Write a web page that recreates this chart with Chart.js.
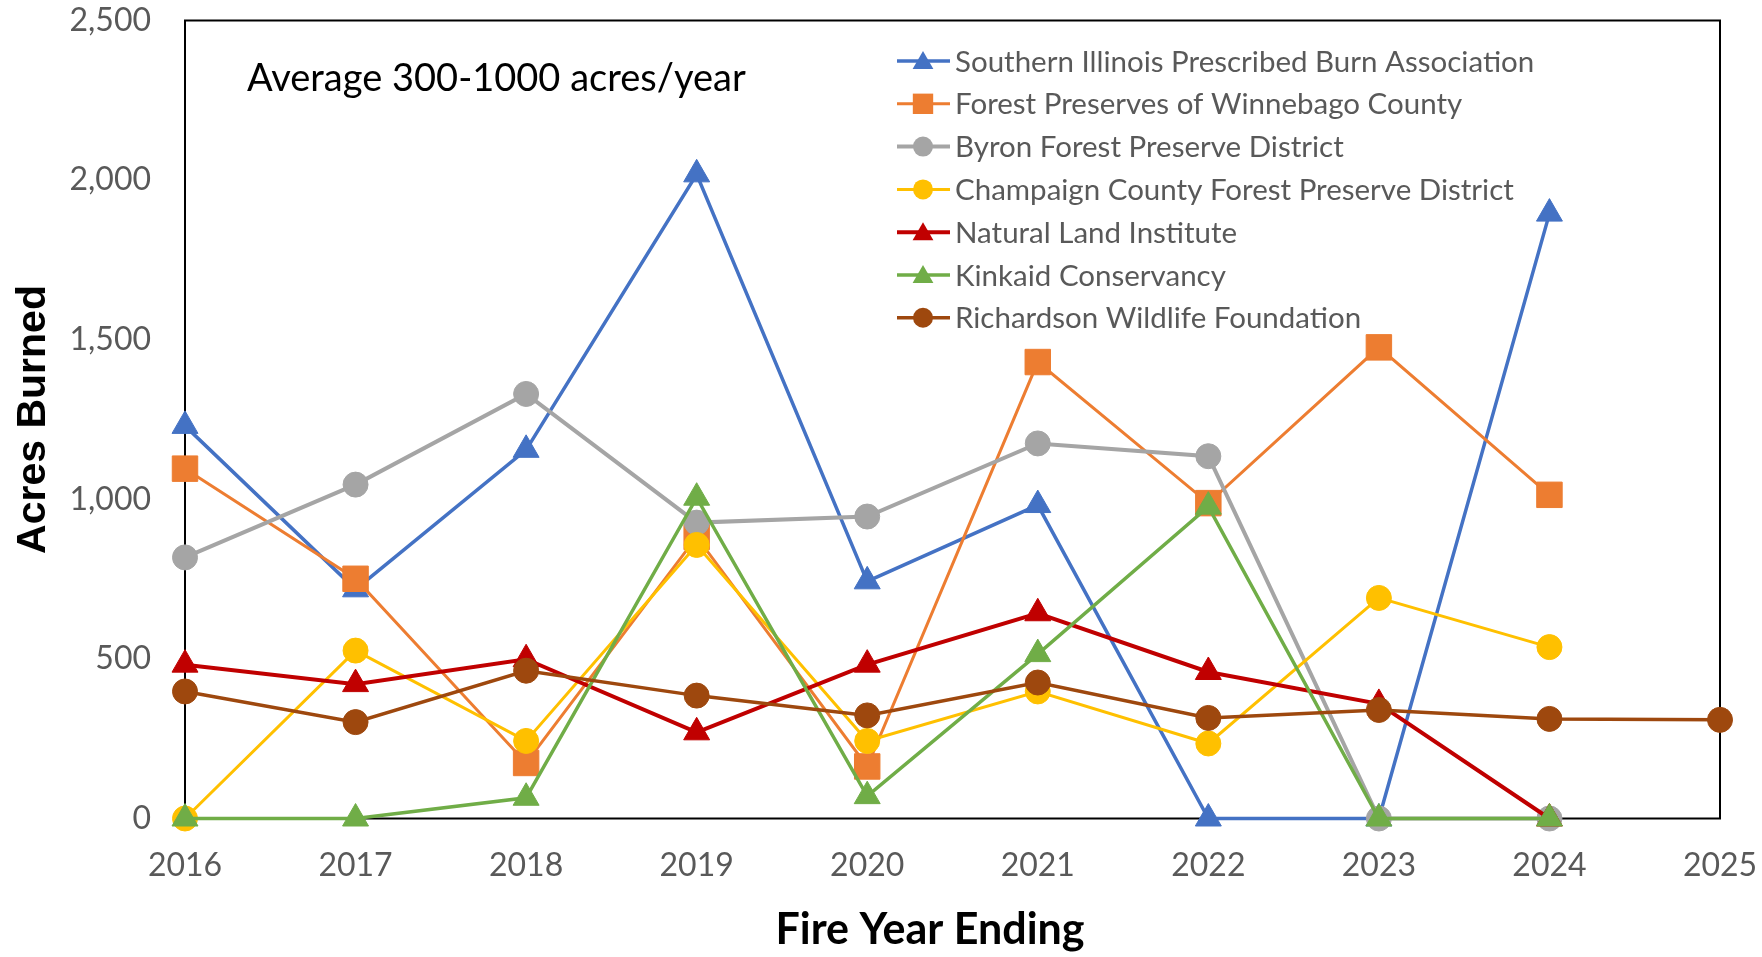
<!DOCTYPE html>
<html lang="en">
<head>
  <meta charset="UTF-8">
  <title>Acres Burned by Fire Year</title>
  <script src="https://cdn.jsdelivr.net/npm/chart.js"></script>
  <style>
    html, body {
      margin: 0;
      padding: 0;
      background: #fff;
    }
    canvas {
      display: block;
    }
  </style>
</head>
<body>

  <canvas id="burnChart" width="1762" height="957"></canvas>

  <script>
    // fire years (x axis)
    const years = ['2016', '2017', '2018', '2019', '2020', '2021', '2022', '2023', '2024', '2025'];

    // acres burned per organisation
    const southernIllinois = [1230, 718, 1155, 2018, 743, 982, 0, 0, 1895, null];
    const winnebago        = [1096, 751, 174, 882, 163, 1430, 988, 1476, 1014, null];
    const byron            = [818, 1046, 1330, 927, 946, 1175, 1135, 0, 0, null];
    const champaign        = [0, 526, 243, 857, 243, 398, 235, 691, 537, null];
    const naturalLand      = [482, 421, 499, 270, 482, 643, 459, 359, 0, null];
    const kinkaid          = [0, 0, 65, 1005, 70, 515, 977, 0, 0, null];
    const richardson       = [398, 302, 463, 385, 323, 426, 315, 340, 312, 309];

    const seriesNames = [
      'Southern Illinois Prescribed Burn Association',
      'Forest Preserves of Winnebago County',
      'Byron Forest Preserve District',
      'Champaign County Forest Preserve District',
      'Natural Land Institute',
      'Kinkaid Conservancy',
      'Richardson Wildlife Foundation'
    ];

    const yTicks = [0, 500, 1000, 1500, 2000, 2500];
    const note = 'Average 300-1000 acres/year';

    const tickGray = '#595959';

    function makeSet(i, data, color, style, radius, width) {
      return {
        label: seriesNames[i],
        data: data,
        borderColor: color,
        backgroundColor: color,
        pointStyle: style,
        pointRadius: radius,
        pointHoverRadius: radius,
        pointBorderWidth: 1,
        borderWidth: width,
        tension: 0,
        clip: false,
        order: 10 - i   // later series sit on top, like the original
      };
    }

    const datasets = [
      makeSet(0, southernIllinois, '#4472C4', 'triangle', 15, 3.5),
      makeSet(1, winnebago,        '#ED7D31', 'rect',     18, 3),
      makeSet(2, byron,            '#A5A5A5', 'circle',   12.5, 4),
      makeSet(3, champaign,        '#FFC000', 'circle',   12.5, 3),
      makeSet(4, naturalLand,      '#C00000', 'triangle', 15, 4),
      makeSet(5, kinkaid,          '#70AD47', 'triangle', 15, 3.5),
      makeSet(6, richardson,       '#9E480E', 'circle',   12.5, 3.5)
    ];

    function drawMarker(ctx, style, x, y, r) {
      ctx.beginPath();
      if (style === 'triangle') {
        ctx.moveTo(x, y - r);
        ctx.lineTo(x + 0.866 * r, y + 0.5 * r);
        ctx.lineTo(x - 0.866 * r, y + 0.5 * r);
        ctx.closePath();
      } else if (style === 'rect') {
        const s = Math.SQRT1_2 * r;
        ctx.rect(x - s, y - s, 2 * s, 2 * s);
      } else {
        ctx.arc(x, y, r, 0, Math.PI * 2);
      }
      ctx.fill();
    }

    // plot frame, note text, legend and x title
    const extras = {
      id: 'extras',
      beforeDatasetsDraw(chart) {
        const { ctx, chartArea: a } = chart;
        ctx.save();
        ctx.strokeStyle = '#000';
        ctx.lineWidth = 2;
        ctx.strokeRect(a.left, a.top, a.right - a.left, a.bottom - a.top);
        ctx.restore();
      },
      afterDraw(chart) {
        const { ctx } = chart;
        ctx.save();

        ctx.fillStyle = '#000';
        ctx.font = '38px Lato';
        ctx.textAlign = 'left';
        ctx.textBaseline = 'alphabetic';
        ctx.fillText(note, 247, 91);

        ctx.font = 'bold 43px Lato';
        ctx.textAlign = 'center';
        ctx.textBaseline = 'middle';
        ctx.fillText('Fire Year Ending', 930, 930);

        // legend
        ctx.font = '29.5px Lato';
        ctx.textAlign = 'left';
        datasets.forEach((ds, i) => {
          const y = 61 + i * 42.8;
          ctx.strokeStyle = ds.borderColor;
          ctx.fillStyle = ds.backgroundColor;
          ctx.lineWidth = ds.borderWidth;
          ctx.beginPath();
          ctx.moveTo(897, y);
          ctx.lineTo(950, y);
          ctx.stroke();
          drawMarker(ctx, ds.pointStyle, 923, ds.pointStyle === 'triangle' ? y + 2 : y, ds.pointRadius * 0.8);
          ctx.fillStyle = tickGray;
          ctx.fillText(ds.label, 955, y + 1);
        });
        ctx.restore();
      }
    };

    new Chart(document.getElementById('burnChart').getContext('2d'), {
      type: 'line',
      data: {
        labels: years,
        datasets: datasets
      },
      options: {
        responsive: false,
        animation: false,
        layout: {
          padding: { top: 20.5, right: 42, left: 0, bottom: 0 }
        },
        plugins: {
          legend: { display: false },
          tooltip: { enabled: false }
        },
        scales: {
          x: {
            offset: false,
            // grid hidden, tick length only used as label gap
            grid: { display: false, drawTicks: true, tickLength: 28 },
            border: { display: false },
            ticks: {
              color: tickGray,
              font: { family: 'Lato', size: 32 },
              padding: 0,
              maxRotation: 0,
              autoSkip: false
            },
            afterFit(scale) { scale.height = 138.5; }
          },
          y: {
            min: 0,
            max: 2500,
            grid: { display: false, drawTicks: true, tickLength: 34 },
            border: { display: false },
            afterBuildTicks(scale) {
              scale.ticks = yTicks.map(v => ({ value: v }));
            },
            ticks: {
              color: tickGray,
              font: { family: 'Lato', size: 32 },
              padding: 0,
              callback: v => v.toLocaleString('en-US')
            },
            title: {
              display: true,
              text: 'Acres Burned',
              color: '#000',
              font: { family: 'Liberation Sans', size: 41, weight: 'bold' },
              padding: { top: 9, bottom: 0 }
            },
            afterFit(scale) { scale.width = 185; }
          }
        }
      },
      plugins: [extras]
    });
  </script>

</body>
</html>
